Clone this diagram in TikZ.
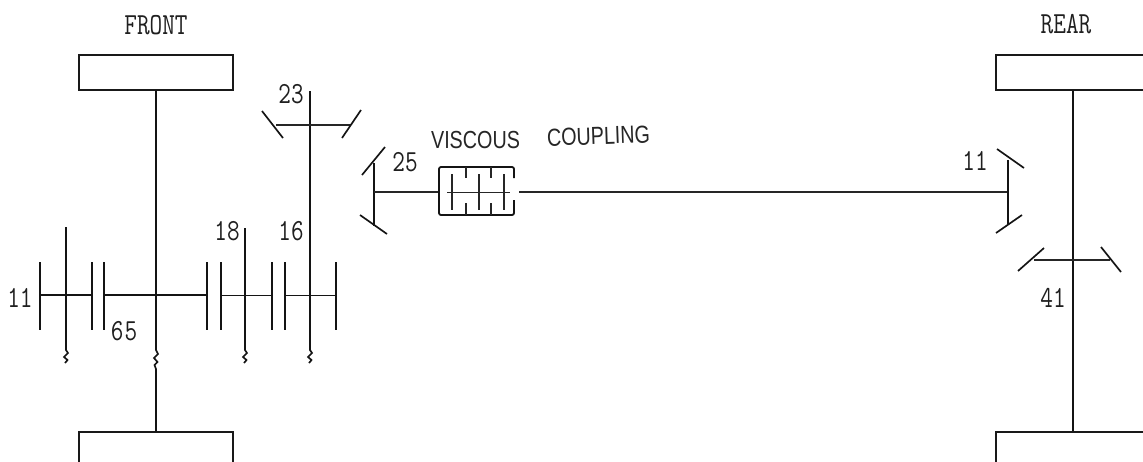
\documentclass[tikz,border=0pt]{standalone}
\usepackage{fontspec}
\setsansfont{Liberation Sans}
\newcommand{\narrowtxt}[1]{\scalebox{0.8}[1]{#1}}
\newcommand{\handtxt}[1]{\scalebox{0.8}[1]{#1}}
\begin{document}
\begin{tikzpicture}[x=0.75pt,y=-0.75pt,line cap=butt,
  heavy/.style={line width=1.25pt,black!92},
  thin line/.style={line width=0.95pt,black!85},
  wheel/.style={draw,line width=1.1pt,black!90,fill=white,inner sep=0pt,minimum width=115.5pt,minimum height=26.25pt},
  lowwheel/.style={draw,line width=1.1pt,black!90,inner sep=0pt,minimum width=115.5pt,minimum height=30pt},
  lbl/.style={font=\ttfamily\fontsize{23}{25}\selectfont,inner sep=0pt,text=black!88},
  hand/.style={font=\sffamily\fontsize{18.5}{20}\selectfont,inner sep=0pt,text=black!85}]
\clip (0,0) rectangle (1143,461);
\fill[white] (0,0) rectangle (1143,461);
% wheels
\node[wheel] (ft) at (156,72.5) {};
\node[lowwheel] (fb) at (156,452) {};
\node[wheel] (rt) at (1073,72.5) {};
\node[lowwheel] (rb) at (1073,452) {};
% axles
\coordinate (fs1) at (156,350);
\coordinate (fs2) at (156,369);
\draw[heavy] (ft.south) -- (fs1) -- (158,354) -- (154,358) -- (157.5,362) -- (154.5,365) -- (fs2) -- (fb.north);
\draw[heavy] (rt.south) -- (rb.north);
% front gear set
\foreach \x in {40,92,104,207,221,272,285,336}
  \draw[heavy] (\x,262) -- (\x,330);
\draw[heavy] (40,295) -- (92,295);
\draw[heavy] (104,295) -- (207,295);
\draw[heavy] (221,295.5) -- (272,295.5);
\draw[heavy] (285,295.5) -- (336,295.5);
\foreach \x/\yt in {66/227,245/228,310/91}
  \draw[heavy] (\x,\yt) -- (\x,350) -- (\x+2,353) -- (\x-2,357) -- (\x+1.5,360) -- (\x-1,363);
% bevel 23
\draw[thin line] (276,125) -- (351,125);
\draw[heavy] (262,111) -- (283,138);
\draw[heavy] (361,110) -- (342,138);
% bevel 25
\draw[heavy] (374,163) -- (374,226);
\draw[heavy] (385,147) -- (362,175);
\draw[heavy] (360,215) -- (387,234);
\draw[thin line] (374,192) -- (439,192);
% viscous coupling
\draw[heavy,rounded corners=1.5pt,line width=1.35pt] (514,178) -- (514,167) -- (439,167) -- (439,215) -- (514,215) -- (514,200);
\draw[thin line,line width=0.7pt] (447,192) -- (510,192);
\foreach \x in {452,479,504} \draw[thin line] (\x,174) -- (\x,210);
\foreach \x in {466,491} {
  \draw[thin line] (\x,167) -- (\x,178);
  \draw[thin line] (\x,203) -- (\x,215);
}
\draw[thin line] (519,192) -- (1008,192);
% bevel 11 rear
\draw[heavy] (1008,160) -- (1008,224);
\draw[heavy] (997,149) -- (1024,168);
\draw[heavy] (996,233) -- (1022,215);
% bevel 41
\draw[thin line] (1034,260) -- (1110,260);
\draw[heavy] (1044,248) -- (1018,271);
\draw[heavy] (1101,247) -- (1121,272);
% labels
\node[lbl] (front) at (156,25) {\narrowtxt{FRONT}};
\node[lbl] (rear) at (1066,24) {\narrowtxt{REAR}};
\node[lbl] (l23) at (291,94) {\narrowtxt{23}};
\node[lbl] (l25) at (405,162) {\narrowtxt{25}};
\node[lbl] (l18) at (227,231.5) {\narrowtxt{18}};
\node[lbl] (l16) at (291,231.5) {\narrowtxt{16}};
\node[lbl] (l11a) at (20,298) {\narrowtxt{11}};
\node[lbl] (l65) at (124,331.5) {\narrowtxt{6\kern1pt5}};
\node[lbl] (l11b) at (975,161) {\narrowtxt{11}};
\node[lbl] (l41) at (1053,298) {\narrowtxt{41}};
\node[hand] (vcl) at (475.5,140) {\handtxt{VISCOUS}};
\node[hand,rotate=2] (cpl) at (598.5,136) {\handtxt{COUPLING}};
\end{tikzpicture}
\end{document}
